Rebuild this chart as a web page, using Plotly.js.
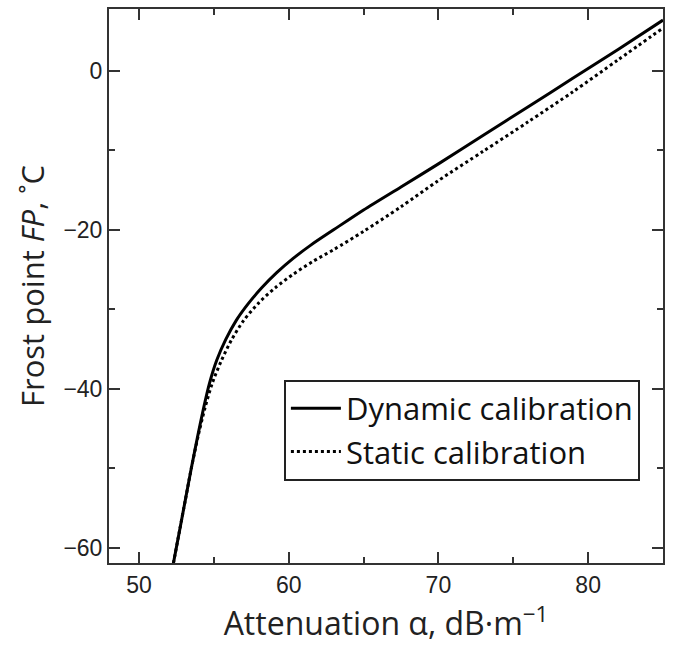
<!DOCTYPE html>
<html>
<head>
<meta charset="utf-8">
<script src="https://cdn.plot.ly/plotly-3.0.1.min.js"></script>
<style>
html,body{margin:0;padding:0;background:#fff;}
#chart{width:673px;height:650px;}
</style>
</head>
<body>
<div id="chart"></div>
<script>
const seriesNames = ["Dynamic calibration", "Static calibration"];
const dynamicAlpha = [52.3, 52.7, 53.1, 53.5, 53.9, 54.3, 54.7, 55.2, 55.8, 56.5, 57.3, 58.2, 59.2, 60.3, 61.5, 63, 65, 67.5, 70, 73, 76, 79, 82, 85];
const dynamicFP    = [-62, -58, -54, -50, -46.2, -42.6, -39.4, -36.4, -33.8, -31.4, -29.3, -27.3, -25.4, -23.6, -21.9, -20.0, -17.5, -14.6, -11.7, -8.1, -4.5, -0.9, 2.7, 6.4];
const staticAlpha  = [52.3, 52.7, 53.1, 53.5, 53.95, 54.4, 54.9, 55.5, 56.2, 57.0, 58.0, 59.1, 60.3, 61.6, 63, 65, 67.5, 70, 73, 76, 79, 82, 85];
const staticFP     = [-62, -58, -54, -50, -46, -42.5, -39.3, -36.5, -33.8, -31.4, -29.2, -27.3, -25.6, -24.0, -22.5, -20.2, -17.1, -13.8, -10.1, -6.4, -2.6, 1.4, 5.4];
const xTickVals = [50, 60, 70, 80];
const yTickVals = [-60, -40, -20, 0];

const traces = [
  {x: dynamicAlpha, y: dynamicFP, name: seriesNames[0], mode: "lines", line: {color: "#000", width: 3, shape: "spline", smoothing: 0.8}},
  {x: staticAlpha, y: staticFP, name: seriesNames[1], mode: "lines", line: {color: "#000", width: 3, dash: "dot", shape: "spline", smoothing: 0.8}}
];

const axisCommon = {
  showline: true, linecolor: "#333", linewidth: 2, mirror: "ticks",
  ticks: "inside", ticklen: 11, tickwidth: 2, tickcolor: "#333",
  showgrid: false, zeroline: false,
  tickfont: {family: "Liberation Sans, Arial, sans-serif", size: 23, color: "#222"}
};

const layout = {
  width: 673, height: 650,
  margin: {l: 109, r: 10, t: 9, b: 87},
  paper_bgcolor: "#fff", plot_bgcolor: "#fff",
  showlegend: true,
  legend: {x: 0.637, y: 0.240, xanchor: "center", yanchor: "middle",
    bordercolor: "#222", borderwidth: 2, bgcolor: "#fff", itemwidth: 50,
    font: {family: "Open Sans, sans-serif", size: 31, color: "#111"},
    tracegroupgap: 0},
  xaxis: Object.assign({}, axisCommon, {
    range: [48, 85], tickvals: xTickVals, ticktext: xTickVals.map(String),
    minor: {dtick: 5, tick0: 0, ticks: "inside", ticklen: 6, tickwidth: 2, tickcolor: "#333"},
    title: {text: "Attenuation α, dB·m<sup>−1</sup>", standoff: 10,
      font: {family: "Open Sans, sans-serif", size: 32, color: "#222"}}
  }),
  yaxis: Object.assign({}, axisCommon, {
    range: [-61.95, 7.8], tickvals: yTickVals, ticktext: yTickVals.map(v => v < 0 ? "−" + Math.abs(v) : String(v)),
    minor: {dtick: 10, tick0: 0, ticks: "inside", ticklen: 6, tickwidth: 2, tickcolor: "#333"},
    title: {text: "Frost point <i>FP</i>, ˚C", standoff: 10,
      font: {family: "Open Sans, sans-serif", size: 31, color: "#222"}}
  })
};

Plotly.newPlot("chart", traces, layout, {displayModeBar: false, staticPlot: true});
</script>
</body>
</html>
